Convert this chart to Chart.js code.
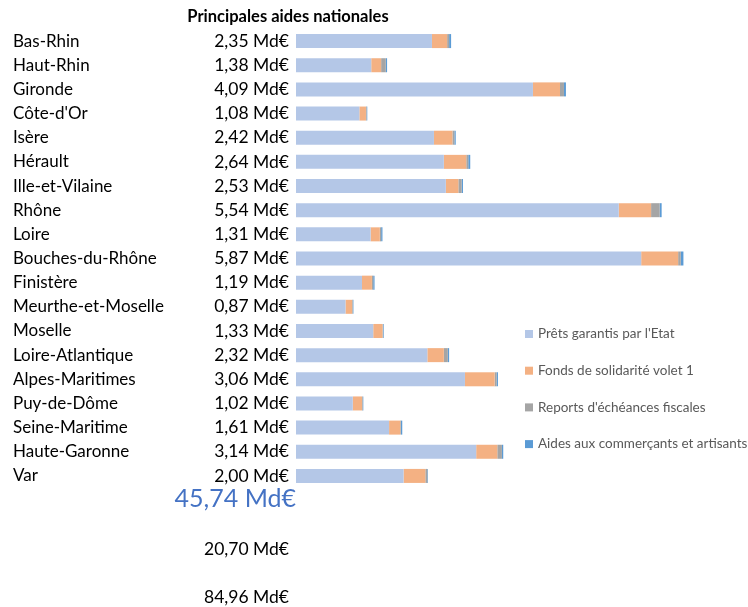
<!DOCTYPE html>
<html>
<head>
<meta charset="utf-8">
<script src="https://cdn.jsdelivr.net/npm/chart.js@4.4.0/dist/chart.umd.min.js"></script>
<style>
  html, body { margin: 0; padding: 0; background: #fff; }
  #wrap { width: 748px; height: 607px; }
</style>
</head>
<body>
<div id="wrap"><canvas id="aidesChart" width="748" height="607"></canvas></div>
<script>
var departements = ["Bas-Rhin", "Haut-Rhin", "Gironde", "Côte-d'Or", "Isère", "Hérault",
    "Ille-et-Vilaine", "Rhône", "Loire", "Bouches-du-Rhône", "Finistère", "Meurthe-et-Moselle",
    "Moselle", "Loire-Atlantique", "Alpes-Maritimes", "Puy-de-Dôme", "Seine-Maritime",
    "Haute-Garonne", "Var"];

// montants en milliards d'euros
var pretsGarantis    = [2.06, 1.14, 3.59, 0.96, 2.09, 2.24, 2.27, 4.89, 1.13, 5.23, 1.00, 0.75, 1.17, 1.99, 2.56, 0.86, 1.41, 2.73, 1.63];
var fondsSolidarite  = [0.23, 0.15, 0.41, 0.10, 0.28, 0.34, 0.19, 0.49, 0.14, 0.56, 0.15, 0.10, 0.14, 0.25, 0.45, 0.14, 0.17, 0.32, 0.33];
var reportsEcheances = [0.03, 0.07, 0.06, 0.01, 0.03, 0.03, 0.05, 0.13, 0.02, 0.04, 0.02, 0.01, 0.01, 0.06, 0.03, 0.01, 0.01, 0.07, 0.03];
var aidesCommercants = [0.03, 0.02, 0.03, 0.01, 0.02, 0.03, 0.02, 0.03, 0.02, 0.04, 0.02, 0.01, 0.01, 0.02, 0.02, 0.01, 0.02, 0.02, 0.01];

var totalGeneral = "45,74 Md€";
var autresTotaux = ["20,70 Md€", "84,96 Md€"];

function md(v) {
    return v.toFixed(2).replace(".", ",") + " Md€";
}

var totaux = departements.map(function (d, i) {
    return md(pretsGarantis[i] + fondsSolidarite[i] + reportsEcheances[i] + aidesCommercants[i]);
});

var police = "Lato, 'Open Sans', sans-serif";

// titre, légende et totaux du bas
var habillage = {
    id: "habillage",
    afterDraw: function (chart) {
        var ctx = chart.ctx;
        ctx.save();
        ctx.fillStyle = "#000";
        ctx.font = "bold 16.5px " + police;
        ctx.textAlign = "center";
        ctx.textBaseline = "middle";
        ctx.fillText("Principales aides nationales", 288, 17);

        ctx.textAlign = "left";
        ctx.font = "13.5px " + police;
        chart.data.datasets.forEach(function (ds, i) {
            var y = 334 + i * 36.7;
            ctx.fillStyle = ds.backgroundColor;
            ctx.fillRect(525, y - 4, 8, 8);
            ctx.fillStyle = "#595959";
            ctx.fillText(ds.label, 538, y);
        });

        ctx.textAlign = "right";
        ctx.fillStyle = "#4472C4";
        ctx.font = "25px " + police;
        ctx.fillText(totalGeneral, 296, 499);
        ctx.fillStyle = "#000";
        ctx.font = "17.5px " + police;
        ctx.fillText(autresTotaux[0], 289, 549);
        ctx.fillText(autresTotaux[1], 289, 597);
        ctx.restore();
    }
};

var ctx1 = document.getElementById("aidesChart").getContext("2d");
var aidesChart = new Chart(ctx1, {
    type: "bar",
    data: {
        labels: departements,
        datasets: [
            { label: "Prêts garantis par l'Etat", data: pretsGarantis, backgroundColor: "#B4C7E7" },
            { label: "Fonds de solidarité volet 1", data: fondsSolidarite, backgroundColor: "#F4B183" },
            { label: "Reports d'échéances fiscales", data: reportsEcheances, backgroundColor: "#A5A5A5" },
            { label: "Aides aux commerçants et artisants", data: aidesCommercants, backgroundColor: "#5B9BD5" }
        ]
    },
    options: {
        indexAxis: "y",
        responsive: false,
        animation: false,
        layout: { padding: { left: 13, top: 29, bottom: 119, right: 56 } },
        datasets: { bar: { categoryPercentage: 1, barPercentage: 0.58, borderWidth: 0 } },
        plugins: {
            legend: { display: false },
            title: { display: false },
            tooltip: { enabled: false }
        },
        scales: {
            x: { stacked: true, display: false, min: 0, max: 6 },
            y: {
                stacked: true,
                weight: 1,
                offset: true,
                grid: { display: false, drawTicks: false },
                border: { display: false },
                ticks: { crossAlign: "far", padding: 0, color: "#000", font: { family: police, size: 17 } },
                afterFit: function (scale) { scale.width = 195; }
            },
            y2: {
                type: "category",
                position: "left",
                labels: totaux,
                weight: 0,
                offset: true,
                grid: { display: false, drawTicks: false },
                border: { display: false },
                ticks: { padding: 7, color: "#000", font: { family: police, size: 17.5 } },
                afterFit: function (scale) { scale.width = 88; }
            }
        }
    },
    plugins: [habillage]
});
</script>
</body>
</html>
